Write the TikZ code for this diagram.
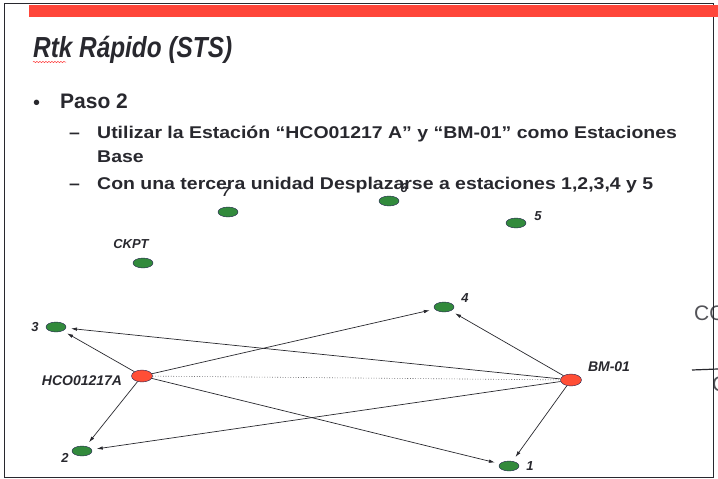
\documentclass[tikz,border=0pt]{standalone}
\usepackage{fontspec}
\setmainfont{Liberation Sans}
\newfontfamily\widefont[FakeStretch=1.145]{Liberation Sans}
\newfontfamily\tallfont[FakeStretch=0.84]{Liberation Sans}
\usetikzlibrary{arrows.meta,shapes.geometric,decorations.pathmorphing}

\definecolor{barred}{RGB}{255,70,58}
\definecolor{stgreen}{RGB}{50,138,60}
\definecolor{stred}{RGB}{255,78,54}
\definecolor{ink}{RGB}{40,40,46}

\begin{document}
\begin{tikzpicture}[x=1pt,y=-1pt]
  \tikzstyle{station}=[ellipse,draw=ink!85!blue,thin,fill=stgreen,minimum width=20pt,minimum height=10pt,inner sep=0pt]
  \tikzstyle{basest}=[station,fill=stred,minimum width=21pt,minimum height=12pt]
  \tikzstyle{tag}=[font=\bfseries\itshape\fontsize{14}{14}\selectfont,text=ink,inner sep=0pt]
  \tikzstyle{num}=[font=\bfseries\itshape\fontsize{13}{13}\selectfont,text=ink,inner sep=0pt]
  \tikzstyle{line}=[font=\widefont\bfseries\fontsize{17}{17}\selectfont,text=ink,inner sep=0pt,anchor=base west]

  \clip (0,0) rectangle (718,479);
  \fill[white] (0,0) rectangle (718,479);

  % neighbouring slide, cut off
  \node[font=\fontsize{21}{21}\selectfont,text=ink!80,anchor=base west,inner sep=0pt] (co) at (694,320) {CO};
  \node[font=\fontsize{21}{21}\selectfont,text=ink!80,anchor=base west,inner sep=0pt] (cc) at (712,391) {C};
  \coordinate (cutl) at (692,370);
  \coordinate (cutr) at (718,369);
  \draw[ink,line width=1.2pt] (cutl) -- (cutr);

  % slide frame and top bar
  \draw[ink,line width=0.9pt] (4.5,3.5) rectangle (713,477);
  \fill[barred] (29,5) rectangle (718,17);

  % title and text
  \node[font=\tallfont\bfseries\itshape\fontsize{29}{29}\selectfont,text=ink,inner sep=0pt,anchor=base west] (title) at (33,57) {Rtk Rápido (STS)};
  \draw[red!80,line width=0.5pt,decorate,decoration={snake,amplitude=0.6pt,segment length=3pt}] (title.base west) ++(0,5) -- ++(33,0);
  \node[line,font=\fontsize{20}{20}\selectfont] (dot) at (33,109) {•};
  \node[line,font=\bfseries\fontsize{21}{21}\selectfont] (paso) at (60,108) {Paso 2};
  \node[line] (d1) at (69,138) {–};
  \node[line] (l1) at (97,138) {Utilizar la Estación “HCO01217 A” y “BM-01” como Estaciones};
  \node[line] (l2) at (97,162) {Base};
  \node[line] (d2) at (69,189) {–};
  \node[line] (l3) at (97,189) {Con una tercera unidad Desplazarse a estaciones 1,2,3,4 y 5};

  % stations
  \node[station] (s7) at (228,212) {};
  \node[station] (s6) at (389,201) {};
  \node[station] (s5) at (516,223) {};
  \node[station] (ck) at (143,263) {};
  \node[station] (s3) at (56,327) {};
  \node[station] (s4) at (444,307) {};
  \node[station] (s2) at (82,451) {};
  \node[station] (s1) at (509,466) {};
  \node[basest] (h) at (142,376) {};
  \node[basest] (b) at (571,380) {};

  \node[num] (t7) at (226,192) {7};
  \node[num] (t6) at (404,188) {6};
  \node[num] (t5) at (538,216) {5};
  \node[tag,font=\bfseries\itshape\fontsize{13}{13}\selectfont] (tck) at (131,244) {CKPT};
  \node[num] (t3) at (35,327) {3};
  \node[num] (t4) at (465,298) {4};
  \node[num] (t2) at (65,458) {2};
  \node[num] (t1) at (530,466) {1};
  \node[tag] (th) at (82,381) {HCO01217A};
  \node[tag] (tb) at (609,367) {BM-01};

  \path[ink,dotted,line width=0.6pt] (h) edge (b);
  \path[->,>={Latex[length=6pt,width=3.5pt]},ink,line width=0.7pt,shorten >=5pt]
  (h) edge (s3)
  (h) edge (s2)
  (h) edge (s4)
  (h) edge (s1)
  (b) edge (s4)
  (b) edge (s3)
  (b) edge (s2)
  (b) edge (s1);
\end{tikzpicture}
\end{document}
